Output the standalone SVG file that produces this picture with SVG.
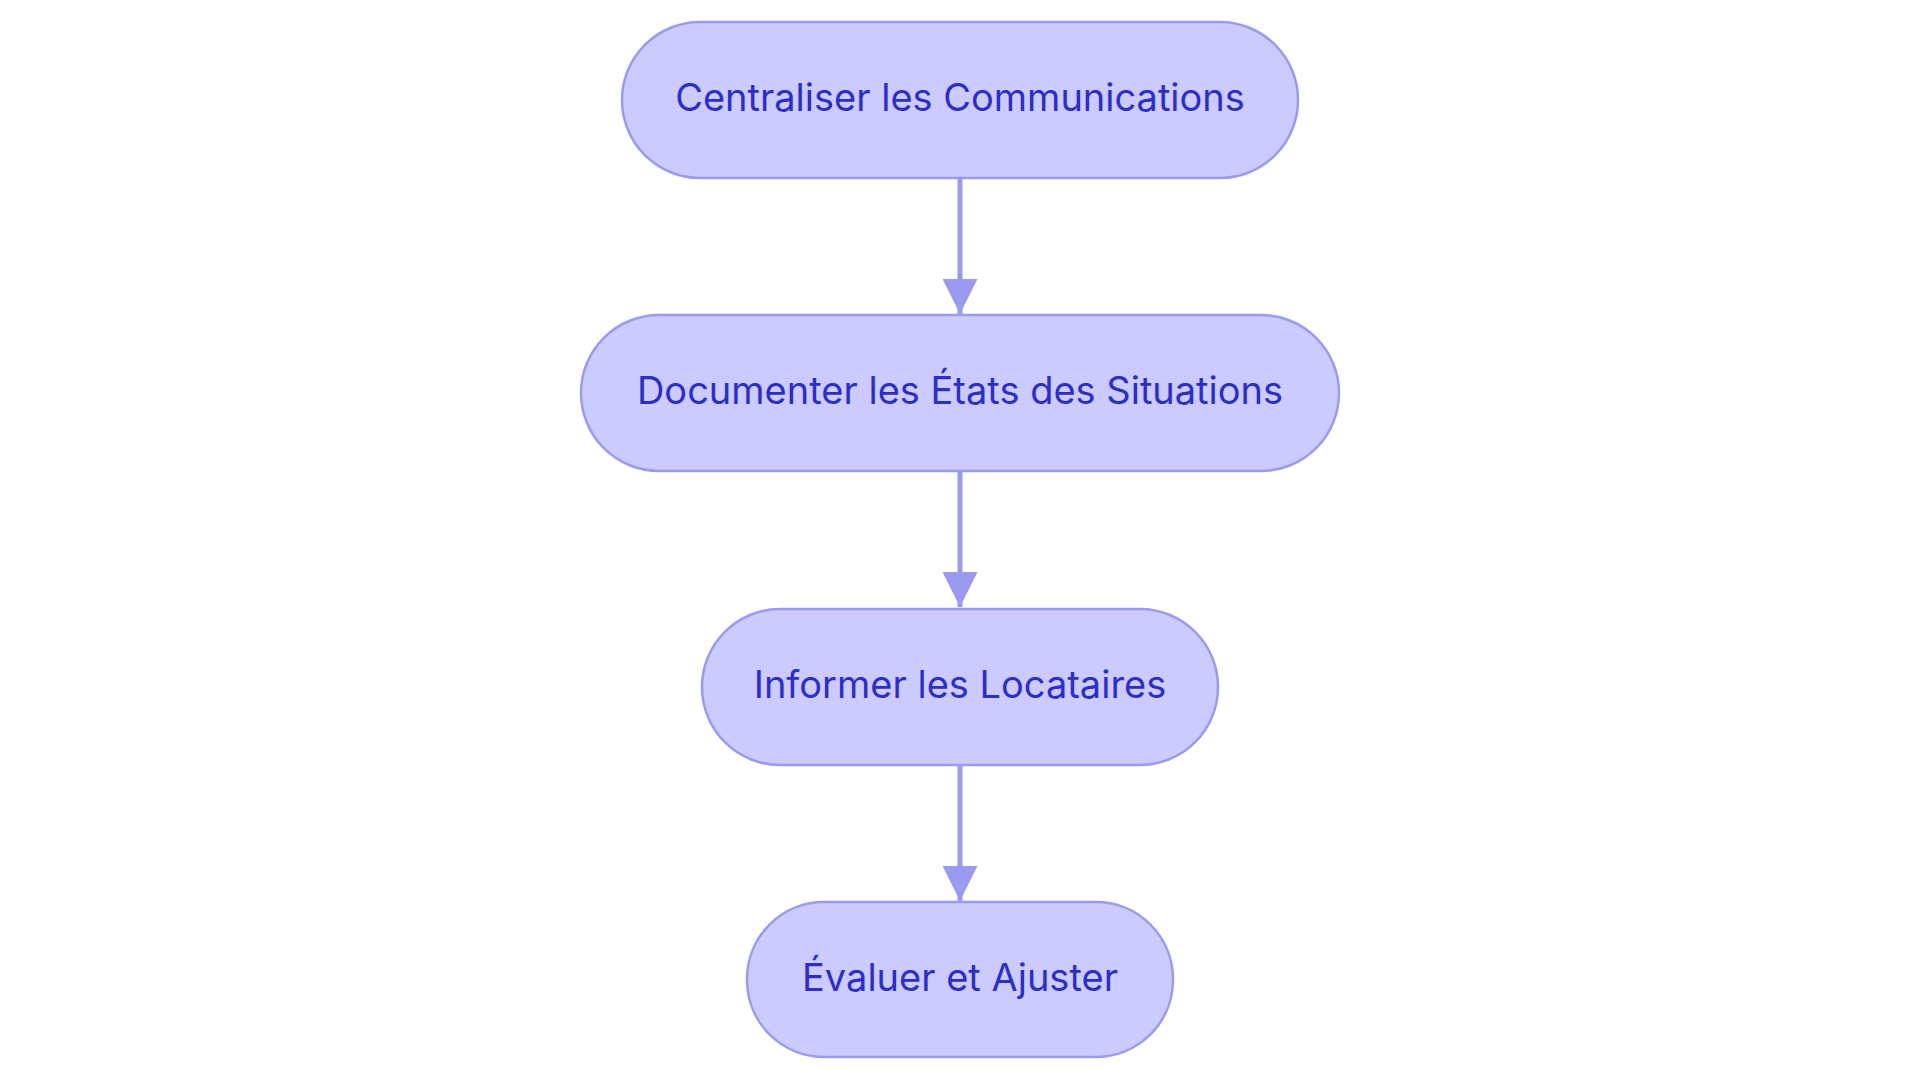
<svg xmlns="http://www.w3.org/2000/svg" width="1920" height="1083" viewBox="0 0 1920 1083">
<style>
.n rect{fill:#cbcbff;stroke:#9a9af0;stroke-width:2.5}
.n text{font-family:Inter,"Noto Sans",sans-serif;font-size:38px;fill:#2d2dc8;text-anchor:middle;dominant-baseline:central}
.e line{stroke:#9a9af0;stroke-width:5}
</style>
<defs><marker id="a" viewBox="0 0 10 10" refX="10" refY="5" markerWidth="7" markerHeight="7" markerUnits="strokeWidth" orient="auto"><path d="M0,0L10,5L0,10z" fill="#9a9af0"/></marker></defs>
<rect width="1920" height="1083" fill="#fff"/>
<g class="e">
<line x1="960" y1="178" x2="960" y2="314" marker-end="url(#a)"/>
<line x1="960" y1="471" x2="960" y2="607" marker-end="url(#a)"/>
<line x1="960" y1="765" x2="960" y2="901" marker-end="url(#a)"/>
</g>
<g id="n1" class="n"><rect x="622" y="22" width="676" height="156" rx="78"/><text x="960" y="97">Centraliser les Communications</text></g>
<g id="n2" class="n"><rect x="581" y="315" width="758" height="156" rx="78"/><text x="960" y="390">Documenter les États des Situations</text></g>
<g id="n3" class="n"><rect x="702" y="609" width="516" height="156" rx="78"/><text x="960" y="684">Informer les Locataires</text></g>
<g id="n4" class="n"><rect x="747" y="902" width="426" height="155" rx="77"/><text x="960" y="977">Évaluer et Ajuster</text></g>
</svg>
